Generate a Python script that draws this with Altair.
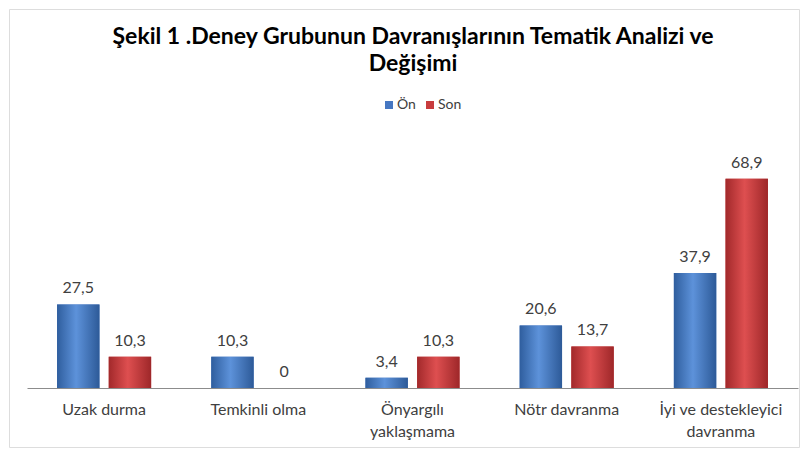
import altair as alt
import pandas as pd

kategoriler = ["Uzak durma", "Temkinli olma", "Önyargılı\nyaklaşmama", "Nötr davranma", "İyi ve destekleyici\ndavranma"]
on_degerler = [27.5, 10.3, 3.4, 20.6, 37.9]
son_degerler = [10.3, 0, 10.3, 13.7, 68.9]
gruplar = ["Ön", "Son"]
renkler = ["#4677c2", "#c83c3d"]

rows = []
for k, a, b in zip(kategoriler, on_degerler, son_degerler):
    rows.append({"kategori": k, "grup": "Ön", "deger": a})
    rows.append({"kategori": k, "grup": "Son", "deger": b})
df = pd.DataFrame(rows)

FONT = "Lato"
TXT = "#404040"

grad_blue = {"gradient": "linear", "x1": 0, "y1": 0, "x2": 1, "y2": 0,
             "stops": [{"offset": 0, "color": "#2f5e9e"}, {"offset": 0.45, "color": "#5d92da"},
                       {"offset": 1, "color": "#2d5a98"}]}
grad_red = {"gradient": "linear", "x1": 0, "y1": 0, "x2": 1, "y2": 0,
            "stops": [{"offset": 0, "color": "#a2292b"}, {"offset": 0.45, "color": "#de4f50"},
                      {"offset": 1, "color": "#9e2729"}]}

x_enc = alt.X("kategori:N", sort=kategoriler,
              scale=alt.Scale(range=[18, 789], paddingInner=0.39, paddingOuter=0.195),
              axis=alt.Axis(title=None, labelAngle=0, ticks=False, domainColor="#8c8c8c",
                            domainWidth=1, offset=-59, labelPadding=13,
                            labelExpr="split(datum.label, '\\n')",
                            labelFont=FONT, labelFontSize=16, labelColor=TXT,
                            labelLineHeight=22, labelBaseline="top"))
xo_enc = alt.XOffset("grup:N", sort=gruplar, scale=alt.Scale(paddingInner=0.18, paddingOuter=0))
y_enc = alt.Y("deger:Q", scale=alt.Scale(domain=[0, 80], range=[379, 136]), axis=None)

base = alt.Chart(df).encode(x=x_enc, xOffset=xo_enc, y=y_enc)

bars = base.mark_bar().encode(
    color=alt.Color("grup:N", sort=gruplar,
                    scale=alt.Scale(domain=gruplar, range=renkler),
                    legend=alt.Legend(title=None, orient="none", legendX=373, legendY=89,
                                      direction="horizontal", symbolType="square",
                                      symbolSize=64, symbolStrokeWidth=0,
                                      labelFont=FONT, labelFontSize=14, labelColor=TXT,
                                      labelOffset=1, columnPadding=7))
)

shade = base.mark_bar().encode(
    fill=alt.when(alt.datum.grup == "Ön").then(alt.value(grad_blue)).otherwise(alt.value(grad_red))
)

labels = base.mark_text(baseline="bottom", dy=-8, font=FONT, fontSize=16, color=TXT).encode(
    text="etiket:N"
).transform_calculate(etiket="replace(format(datum.deger, '.1~f'), '.', ',')")

chart = alt.layer(bars, shade, labels).properties(
    width=790, height=438,
    autosize=alt.AutoSizeParams(type="none"),
    padding={"left": 1, "top": 1, "right": 1, "bottom": 1},
    title=alt.TitleParams(
        ["Şekil 1 .Deney Grubunun Davranışlarının Tematik Analizi ve", "Değişimi"],
        font=FONT, fontSize=23, fontWeight="bold", color="#000000",
        anchor="middle", frame="group", offset=-67, dx=9, lineHeight=27)
).configure_view(stroke="#8c8c8c", strokeWidth=1).configure(background="white")

chart.save("out.html", embed_options={"renderer": "svg", "actions": False})
